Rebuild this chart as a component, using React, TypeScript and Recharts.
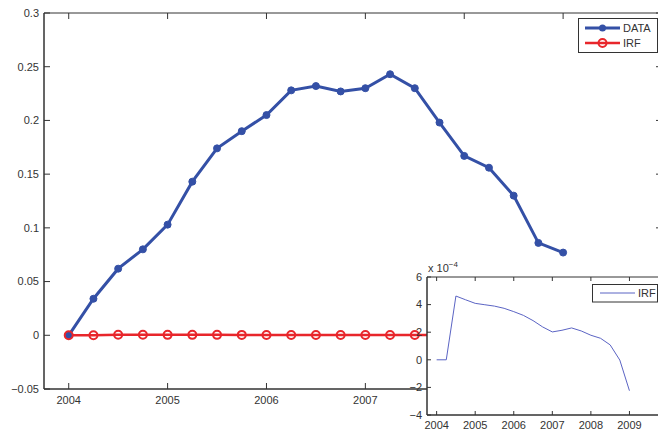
import React from 'react';
import { LineChart, Line, XAxis, YAxis, ReferenceArea } from 'recharts';

// quarterly sample dates
const quarters = [
    2004, 2004.25, 2004.5, 2004.75, 2005, 2005.25, 2005.5, 2005.75, 2006, 2006.25, 2006.5,
    2006.75, 2007, 2007.25, 2007.5, 2007.75, 2008, 2008.25, 2008.5, 2008.75, 2009,
];
const dataSeries = [
    0, 0.034, 0.062, 0.08, 0.103, 0.143, 0.174, 0.19, 0.205, 0.228, 0.232,
    0.227, 0.23, 0.243, 0.23, 0.198, 0.167, 0.156, 0.13, 0.086, 0.077,
];
const irfSeries = [
    0, 0, 4.62e-4, 4.35e-4, 4.09e-4, 3.99e-4, 3.89e-4, 3.73e-4, 3.49e-4, 3.22e-4, 2.84e-4,
    2.38e-4, 2.02e-4, 2.14e-4, 2.31e-4, 2.09e-4, 1.78e-4, 1.56e-4, 1.08e-4, -0.02e-4, -2.24e-4,
];
const yearTicks = [2004, 2005, 2006, 2007, 2008, 2009];
const mainYTicks = [-0.05, 0, 0.05, 0.1, 0.15, 0.2, 0.25, 0.3];
const insetYTicks = [-4e-4, -2e-4, 0, 2e-4, 4e-4, 6e-4];

const rows = quarters.map((q, i) => ({ year: q, data: dataSeries[i], irf: irfSeries[i] }));

const FONT = '"Liberation Sans", Arial, Helvetica, sans-serif';
const BLUE = '#3450a6';
const RED = '#e8262b';
const INSET_BLUE = '#5b64c4';
const AXIS = '#333';
const TEXT = '#333';

const W = 680;
const H = 432;
const MAIN = { left: 44, top: 13, right: 662, bottom: 389 };
const INSET = { left: 427, top: 277, right: 668, bottom: 415 };

const fmtMain = (v: number) => {
    if (Math.abs(v) < 1e-9) return '0';
    const s = String(+v.toFixed(2));
    return s.replace('-', '\u2212');
};
const fmtInset = (v: number) => {
    const n = Math.round(v * 1e4);
    return n < 0 ? '\u2212' + Math.abs(n) : String(n);
};

const makeXTick = (box: typeof MAIN, len: number, dy: number) => (props: any) => {
    const { x, payload } = props;
    const cx = payload.coordinate ?? x;
    return (
        <g>
            <line x1={cx} x2={cx} y1={box.bottom} y2={box.bottom - len} stroke={AXIS} />
            <line x1={cx} x2={cx} y1={box.top} y2={box.top + len} stroke={AXIS} />
            <text x={cx} y={box.bottom + dy} textAnchor="middle" fontSize={11} fontFamily={FONT} fill={TEXT}>
                {payload.value}
            </text>
        </g>
    );
};

const makeYTick = (box: typeof MAIN, len: number, gap: number, fmt: (v: number) => string) => (props: any) => {
    const { y, payload } = props;
    const cy = payload.coordinate ?? y;
    return (
        <g>
            <line x1={box.left} x2={box.left + len} y1={cy} y2={cy} stroke={AXIS} />
            <line x1={box.right - len} x2={box.right} y1={cy} y2={cy} stroke={AXIS} />
            <text x={box.left - gap} y={cy} dy="0.35em" textAnchor="end" fontSize={11} fontFamily={FONT} fill={TEXT}>
                {fmt(payload.value)}
            </text>
        </g>
    );
};

const MainLegend = () => (
    <svg width={80} height={36} style={{ position: 'absolute', left: 578, top: 18 }}>
        <rect x={0.5} y={0.5} width={79} height={34} fill="#fff" stroke={AXIS} />
        <line x1={7} x2={42} y1={10} y2={10} stroke={BLUE} strokeWidth={3} />
        <circle cx={24.5} cy={10} r={3.5} fill={BLUE} />
        <text x={45} y={10} dy="0.35em" fontSize={11} fontFamily={FONT} fill={TEXT}>DATA</text>
        <line x1={7} x2={42} y1={25} y2={25} stroke={RED} strokeWidth={2.5} />
        <circle cx={24.5} cy={25} r={4} fill="none" stroke={RED} strokeWidth={2} />
        <text x={45} y={25} dy="0.35em" fontSize={11} fontFamily={FONT} fill={TEXT}>IRF</text>
    </svg>
);

const InsetLegend = () => (
    <svg width={66} height={19} style={{ position: 'absolute', left: 592, top: 284 }}>
        <rect x={0.5} y={0.5} width={65} height={17.5} fill="#fff" stroke={AXIS} />
        <line x1={8} x2={43} y1={9} y2={9} stroke={INSET_BLUE} strokeWidth={1} />
        <text x={46} y={9} dy="0.35em" fontSize={11} fontFamily={FONT} fill={TEXT}>IRF</text>
    </svg>
);

export default function App() {
    return (
        <div style={{ position: 'fixed', left: 0, top: 0, width: 658, height: 432, overflow: 'hidden', background: '#fff' }}>
            <div style={{ position: 'absolute', left: 0, top: 0 }}>
                <LineChart
                    width={W}
                    height={H}
                    data={rows}
                    margin={{ top: MAIN.top, right: W - MAIN.right, bottom: 0, left: 0 }}
                >
                    <ReferenceArea x1={2003.75} x2={2010} y1={-0.05} y2={0.3} fill="none" stroke={AXIS} />
                    <XAxis
                        dataKey="year"
                        type="number"
                        domain={[2003.75, 2010]}
                        ticks={yearTicks}
                        height={H - MAIN.bottom}
                        axisLine={{ stroke: AXIS }}
                        tickLine={false}
                        tickSize={0}
                        tick={makeXTick(MAIN, 6, 15)}
                        allowDataOverflow
                    />
                    <YAxis
                        type="number"
                        domain={[-0.05, 0.3]}
                        ticks={mainYTicks}
                        width={MAIN.left}
                        axisLine={{ stroke: AXIS }}
                        tickLine={false}
                        tickSize={0}
                        tick={makeYTick(MAIN, 6, 5, fmtMain)}
                        allowDataOverflow
                    />
                    <Line
                        dataKey="data"
                        stroke={BLUE}
                        strokeWidth={3}
                        dot={{ r: 3.5, fill: BLUE, stroke: BLUE, strokeWidth: 1 }}
                        isAnimationActive={false}
                    />
                    <Line
                        dataKey="irf"
                        stroke={RED}
                        strokeWidth={2.5}
                        dot={{ r: 4, fill: 'none', stroke: RED, strokeWidth: 2 }}
                        isAnimationActive={false}
                    />
                </LineChart>
            </div>
            <MainLegend />

            <div style={{ position: 'absolute', left: 0, top: 0 }}>
                <LineChart
                    width={W}
                    height={H}
                    data={rows}
                    margin={{ top: INSET.top, right: W - INSET.right, bottom: 0, left: 0 }}
                >
                    <ReferenceArea x1={2003.75} x2={2010} y1={-4e-4} y2={6e-4} fill="#fff" fillOpacity={1} stroke={AXIS} />
                    <XAxis
                        dataKey="year"
                        type="number"
                        domain={[2003.75, 2010]}
                        ticks={yearTicks}
                        height={H - INSET.bottom}
                        axisLine={{ stroke: AXIS }}
                        tickLine={false}
                        tickSize={0}
                        tick={makeXTick(INSET, 4, 14)}
                        allowDataOverflow
                    />
                    <YAxis
                        type="number"
                        domain={[-4e-4, 6e-4]}
                        ticks={insetYTicks}
                        width={INSET.left}
                        axisLine={{ stroke: AXIS }}
                        tickLine={false}
                        tickSize={0}
                        tick={makeYTick(INSET, 4, 5, fmtInset)}
                        allowDataOverflow
                    />
                    <Line
                        dataKey="irf"
                        stroke={INSET_BLUE}
                        strokeWidth={1}
                        dot={false}
                        isAnimationActive={false}
                    />
                </LineChart>
            </div>
            <InsetLegend />

            <div
                style={{
                    position: 'absolute',
                    left: 428,
                    top: 262,
                    fontFamily: FONT,
                    fontSize: 11,
                    lineHeight: '13px',
                    color: TEXT,
                    whiteSpace: 'nowrap',
                }}
            >
                x 10<sup style={{ fontSize: 8, verticalAlign: 'top', position: 'relative', top: -4 }}>{'\u2212'}4</sup>
            </div>
        </div>
    );
}
